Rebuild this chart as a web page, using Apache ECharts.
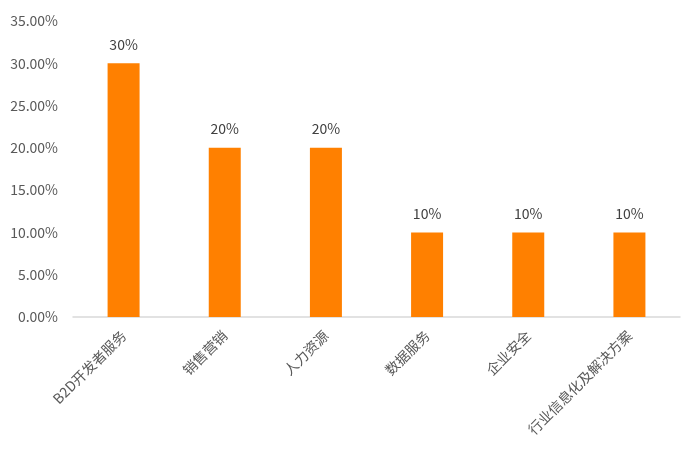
<!DOCTYPE html>
<html><head><meta charset="utf-8">
<script src="https://cdn.jsdelivr.net/npm/echarts@6/dist/echarts.min.js"></script>
<style>html,body{margin:0;padding:0;background:#fff}#c{width:700px;height:453px}</style>
</head><body><div id="c"></div>
<script>
const categories = ['B2D开发者服务','销售营销','人力资源','数据服务','企业安全','行业信息化及解决方案'];
const values = [0.30, 0.20, 0.20, 0.10, 0.10, 0.10];
const yTicks = [0, 0.05, 0.10, 0.15, 0.20, 0.25, 0.30, 0.35];
const font = '"Noto Sans CJK SC", "Microsoft YaHei", sans-serif';
const chart = echarts.init(document.getElementById('c'));
chart.setOption({
  animation: false,
  grid: {left: 73, right: 20, top: 21, bottom: 136, containLabel: false},
  xAxis: {
    type: 'category', data: categories,
    axisLine: {lineStyle: {color: '#d9d9d9', width: 1.5}},
    axisTick: {show: false},
    axisLabel: {rotate: 45, interval: 0, color: '#595959', fontSize: 14, fontFamily: font, margin: 16}
  },
  yAxis: {
    type: 'value', min: yTicks[0], max: yTicks[yTicks.length-1], interval: 0.05,
    axisLine: {show: false}, axisTick: {show: false}, splitLine: {show: false},
    axisLabel: {color: '#595959', fontSize: 14, fontFamily: font, margin: 15,
      formatter: v => (v*100).toFixed(2) + '%'}
  },
  series: [{
    type: 'bar', data: values, barWidth: 32,
    itemStyle: {color: '#FF8000'},
    label: {show: true, position: 'top', distance: 12, color: '#404040', fontSize: 14, fontFamily: font,
      formatter: p => Math.round(p.value*100) + '%'}
  }]
});
</script></body></html>
